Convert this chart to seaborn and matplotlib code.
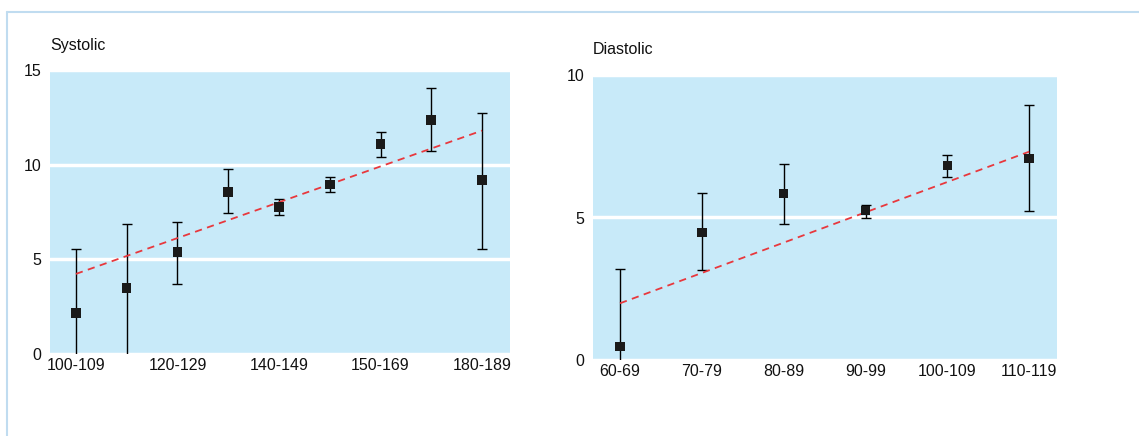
import matplotlib.pyplot as plt
import seaborn as sns
import pandas as pd
from matplotlib.lines import Line2D

# Systolic groups (every other label is printed in the original)
sys_labels = ["100-109", "", "120-129", "", "140-149", "", "150-169", "", "180-189"]
sys_mean = [2.17, 3.49, 5.39, 8.56, 7.77, 8.96, 11.10, 12.36, 9.19]
sys_low = [-1.2, -0.3, 3.70, 7.45, 7.36, 8.56, 10.40, 10.72, 5.55]
sys_high = [5.55, 6.87, 6.97, 9.77, 8.19, 9.35, 11.73, 14.05, 12.73]
sys_trend = [4.23, 11.80]  # fitted values at first and last group

# Diastolic groups
dia_labels = ["60-69", "70-79", "80-89", "90-99", "100-109", "110-119"]
dia_mean = [0.47, 4.48, 5.84, 5.24, 6.82, 7.07]
dia_low = [-2.2, 3.15, 4.77, 4.99, 6.41, 5.22]
dia_high = [3.18, 5.85, 6.89, 5.45, 7.19, 8.96]
dia_trend = [1.99, 7.31]

BG = "#c8eaf9"
RED = "#e8383d"
FS = 11.5

sns.set_style("white")
plt.rcParams["font.family"] = ["Liberation Sans", "DejaVu Sans"]


def draw_panel(ax, labels, mean, low, high, trend, ylim, yticks, xlim):
    df = pd.DataFrame({"pos": range(len(labels)), "mean": mean, "low": low, "high": high})
    ax.set_facecolor(BG)
    ax.errorbar(df["pos"], df["mean"],
                yerr=[df["mean"] - df["low"], df["high"] - df["mean"]],
                fmt="none", ecolor="black", elinewidth=1, capsize=3.5,
                capthick=1, zorder=2)
    trend_df = pd.DataFrame({"pos": [0, len(labels) - 1], "val": trend})
    sns.lineplot(data=trend_df, x="pos", y="val", ax=ax, color=RED,
                 linestyle=(0, (4, 3)), linewidth=1.3, zorder=3)
    sns.scatterplot(data=df, x="pos", y="mean", ax=ax, marker="s", s=48,
                    color="#1a1a1a", edgecolor="none", zorder=4)
    ax.set_ylim(*ylim)
    ax.set_xlim(*xlim)
    ax.set_yticks(yticks)
    ax.set_xticks(df["pos"])
    ax.set_xticklabels(labels)
    ax.yaxis.grid(True, color="white", linewidth=2.5)
    ax.xaxis.grid(False)
    ax.set_axisbelow(True)
    for s in ax.spines.values():
        s.set_visible(False)
    ax.tick_params(axis="x", direction="in", length=3, width=1.5, color="white",
                   pad=3, labelsize=FS, labelcolor="#111111")
    ax.tick_params(axis="y", length=0, pad=6, labelsize=FS, labelcolor="#111111")
    ax.set_xlabel("")
    ax.set_ylabel("")


fig = plt.figure(figsize=(11.39, 4.36), dpi=100)

ax1 = fig.add_axes([50 / 1139, 82 / 436, 460 / 1139, 284 / 436])
draw_panel(ax1, sys_labels, sys_mean, sys_low, sys_high, sys_trend,
           (0, 15), [0, 5, 10, 15], (-0.51, 8.55))
# show only labelled ticks
for tick, lab in zip(ax1.xaxis.get_major_ticks(), sys_labels):
    if not lab:
        tick.tick1line.set_visible(False)

ax2 = fig.add_axes([593 / 1139, 76 / 436, 464 / 1139, 285 / 436])
draw_panel(ax2, dia_labels, dia_mean, dia_low, dia_high, dia_trend,
           (0, 10), [0, 5, 10], (-0.33, 5.34))

fig.text(50 / 1139, 1 - 50 / 436, "Systolic", fontsize=FS, color="#111111")
fig.text(593 / 1139, 1 - 54 / 436, "Diastolic", fontsize=FS, color="#111111")

# light outer frame (top and left edges)
frame_c = "#c0dcf0"
fig.add_artist(Line2D([7 / 1139, 1], [1 - 12 / 436, 1 - 12 / 436],
                      transform=fig.transFigure, color=frame_c, linewidth=1.5))
fig.add_artist(Line2D([7 / 1139, 7 / 1139], [0, 1 - 12 / 436],
                      transform=fig.transFigure, color=frame_c, linewidth=1.5))

fig.savefig("out.png", dpi=100)
